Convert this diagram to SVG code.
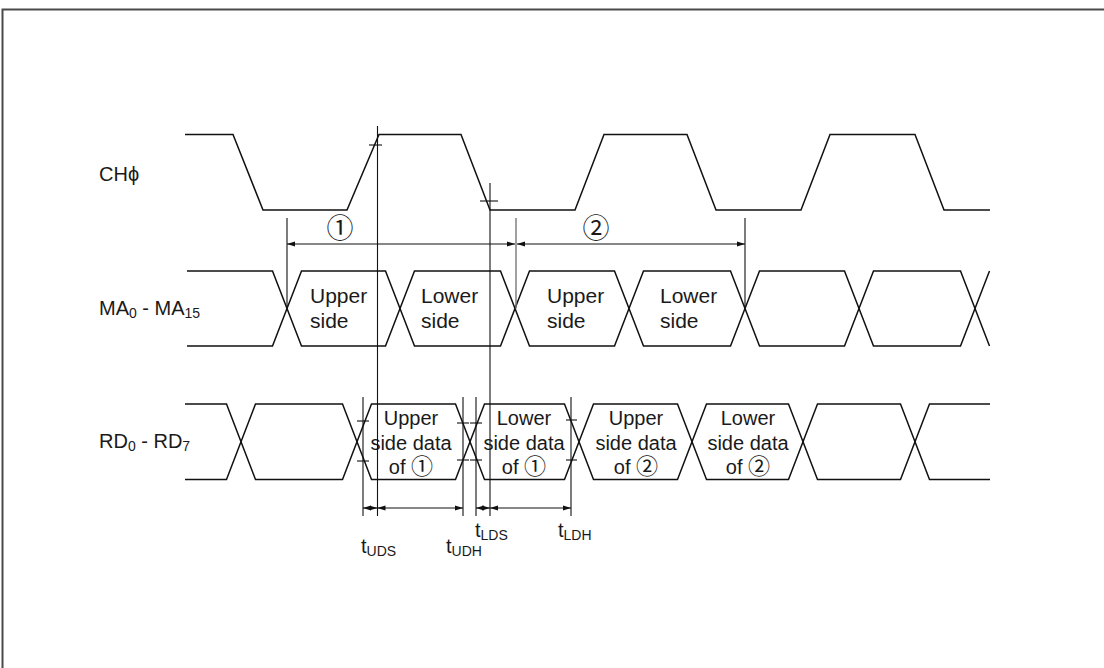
<svg xmlns="http://www.w3.org/2000/svg" width="1104" height="668" viewBox="0 0 1104 668">
<style>
text{font-family:'Liberation Sans','Noto Sans CJK JP',sans-serif;fill:#1a1a1a}
.lbl{font-size:20px}
.box{font-size:21px}
.rdt{font-size:20px;text-anchor:middle}
.sub{font-size:14px}
.num{font-size:27px;text-anchor:middle}
.cn{font-size:22px}
.wave{fill:none;stroke:#111;stroke-width:1.5;stroke-linejoin:miter}
.ref{stroke:#111;stroke-width:1.1;fill:none}
.refg{stroke:#777;stroke-width:1.4;fill:none}
.tick{stroke:#111;stroke-width:1.1}
.dim{stroke:#111;stroke-width:1.1;fill:none;marker-start:url(#ah);marker-end:url(#ah)}
</style>
<defs>
<marker id="ah" viewBox="0 0 8 6" refX="8" refY="3" markerWidth="8" markerHeight="6" markerUnits="userSpaceOnUse" orient="auto-start-reverse">
<path d="M0,0.5 L8,3 L0,5.5 Z" fill="#111"/>
</marker>
</defs>
<rect width="1104" height="668" fill="#fff"/>
<path d="M2.5,668 V9.5 H1104" fill="none" stroke="#4a4a4a" stroke-width="2"/>

<g id="labels">
<text class="lbl" x="99" y="181">CHϕ</text>
<text class="lbl" x="99" y="315">MA<tspan class="sub" dy="3">0</tspan><tspan dy="-3"> - MA</tspan><tspan class="sub" dy="3">15</tspan></text>
<text class="lbl" x="99" y="448">RD<tspan class="sub" dy="3">0</tspan><tspan dy="-3"> - RD</tspan><tspan class="sub" dy="3">7</tspan></text>
</g>

<g id="ch-signal">
<path class="wave" d="M185,134.5 H233 L263,210 H347 L379,134.5 H461 L490,210 H575 L604,134.5 H687 L716,210 H801 L830,134.5 H915 L944,210 H990"/>
</g>

<g id="ma-signal">
<path class="wave" d="M187,271 H272.5 L301.5,346 H385.5 L414.5,271 H500.5 L529.5,346 H614.5 L643.5,271 H730.5 L759.5,346 H844.5 L873.5,271 H960.5 L989.5,346"/>
<path class="wave" d="M187,346 H272.5 L301.5,271 H385.5 L414.5,346 H500.5 L529.5,271 H614.5 L643.5,346 H730.5 L759.5,271 H844.5 L873.5,346 H960.5 L989.5,271"/>
<text class="box" x="310" y="303">Upper</text>
<text class="box" x="310" y="328">side</text>
<text class="box" x="421" y="303">Lower</text>
<text class="box" x="421" y="328">side</text>
<text class="box" x="547" y="303">Upper</text>
<text class="box" x="547" y="328">side</text>
<text class="box" x="660" y="303">Lower</text>
<text class="box" x="660" y="328">side</text>
</g>

<g id="rd-signal">
<path class="wave" d="M185,404 H226.5 L255.5,479.5 H342.5 L371.5,404 H455.5 L484.5,479.5 H564.5 L593.5,404 H677.5 L706.5,479.5 H788.5 L817.5,404 H900.5 L929.5,479.5 H990"/>
<path class="wave" d="M185,479.5 H226.5 L255.5,404 H342.5 L371.5,479.5 H455.5 L484.5,404 H564.5 L593.5,479.5 H677.5 L706.5,404 H788.5 L817.5,479.5 H900.5 L929.5,404 H990"/>
<g class="rdt">
<text x="411" y="425">Upper</text><text x="411" y="449.5">side data</text><text x="411" y="474">of <tspan class="cn">①</tspan></text>
<text x="524" y="425">Lower</text><text x="524" y="449.5">side data</text><text x="524" y="474">of <tspan class="cn">①</tspan></text>
<text x="636" y="425">Upper</text><text x="636" y="449.5">side data</text><text x="636" y="474">of <tspan class="cn">②</tspan></text>
<text x="748" y="425">Lower</text><text x="748" y="449.5">side data</text><text x="748" y="474">of <tspan class="cn">②</tspan></text>
</g>
</g>

<g id="connectors">
<line class="ref" x1="287" y1="218" x2="287" y2="308.5"/>
<line class="ref" x1="377.5" y1="126" x2="377.5" y2="516"/>
<line class="ref" x1="490" y1="183" x2="490" y2="516"/>
<line class="refg" x1="516" y1="218" x2="516" y2="308.5"/>
<line class="ref" x1="745" y1="218" x2="745" y2="308.5"/>
<line class="ref" x1="363" y1="397" x2="363" y2="516"/>
<line class="ref" x1="463" y1="397" x2="463" y2="516"/>
<line class="ref" x1="476" y1="397" x2="476" y2="516"/>
<line class="ref" x1="571" y1="397" x2="571" y2="516"/>
<line class="tick" x1="369" y1="145" x2="382" y2="145"/>
<line class="tick" x1="480" y1="201" x2="498" y2="201"/>
<line class="tick" x1="357" y1="421" x2="369" y2="421"/>
<line class="tick" x1="357" y1="461" x2="369" y2="461"/>
<line class="tick" x1="457" y1="423" x2="469" y2="423"/>
<line class="tick" x1="457" y1="460" x2="469" y2="460"/>
<line class="tick" x1="470" y1="423" x2="482" y2="423"/>
<line class="tick" x1="470" y1="460" x2="482" y2="460"/>
<line class="tick" x1="566" y1="420" x2="577" y2="420"/>
<line class="tick" x1="566" y1="460" x2="577" y2="460"/>
<line class="dim" x1="287" y1="244" x2="515" y2="244"/>
<line class="dim" x1="517" y1="244" x2="745" y2="244"/>
<line class="dim" x1="363" y1="508" x2="377.5" y2="508"/>
<line class="dim" x1="377.5" y1="508" x2="463" y2="508"/>
<line class="dim" x1="476" y1="508" x2="490" y2="508"/>
<line class="dim" x1="490" y1="508" x2="571" y2="508"/>
</g>

<g id="dim-labels">
<text class="num" x="340" y="238">①</text>
<text class="num" x="596" y="238">②</text>
<text class="lbl" x="361" y="553">t<tspan class="sub" dy="3">UDS</tspan></text>
<text class="lbl" x="446" y="553">t<tspan class="sub" dy="3">UDH</tspan></text>
<text class="lbl" x="475" y="537">t<tspan class="sub" dy="3">LDS</tspan></text>
<text class="lbl" x="558" y="537">t<tspan class="sub" dy="3">LDH</tspan></text>
</g>
</svg>
